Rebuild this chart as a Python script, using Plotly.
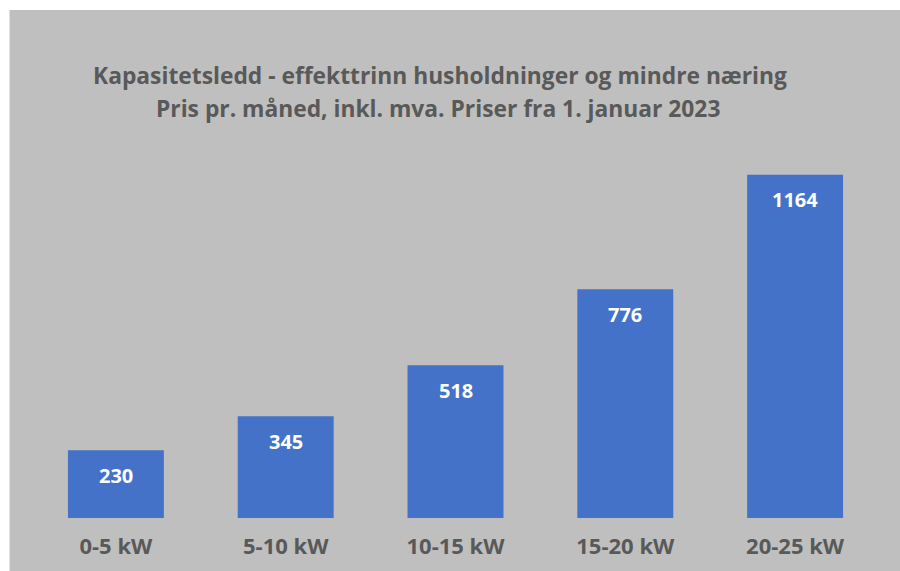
import plotly.graph_objects as go

categories = ["0-5 kW", "5-10 kW", "10-15 kW", "15-20 kW", "20-25 kW"]
values = [230, 345, 518, 776, 1164]
title_lines = ["Kapasitetsledd - effekttrinn husholdninger og mindre næring",
               "Pris pr. måned, inkl. mva. Priser fra 1. januar 2023"]

W, H = 900, 571
BG = "#bfbfbf"
TXT = "#595959"

fig = go.Figure(go.Bar(
    x=categories, y=values,
    marker=dict(color="#4472c8", line=dict(width=0)),
    width=0.565, hoverinfo="x+y",
))

# plot area: x 30.5..880.5 ; y bottom 518, top 150
l, r = 30.5, W - 880.5
b, t = H - 518, 150
annotations = [
    dict(text=title_lines[0], xref="paper", yref="paper", showarrow=False,
         x=(440 - l) / (W - l - r), y=(518 - 75) / (518 - t), xanchor="center", yanchor="middle",
         font=dict(family="Open Sans", size=22.8, color=TXT, weight="bold")),
    dict(text=title_lines[1], xref="paper", yref="paper", showarrow=False,
         x=(438 - l) / (W - l - r), y=(518 - 108) / (518 - t), xanchor="center", yanchor="middle",
         font=dict(family="Open Sans", size=22.8, color=TXT, weight="bold")),
]
for c, v in zip(categories, values):
    annotations.append(dict(x=c, y=v, xref="x", yref="y", text=str(v), showarrow=False,
                            yanchor="middle", yshift=-25,
                            font=dict(family="Open Sans", size=20, color="white", weight="bold")))

fig.update_layout(
    width=W, height=H,
    paper_bgcolor="white", plot_bgcolor=BG,
    margin=dict(l=l, r=r, t=t, b=b, pad=0),
    showlegend=False,
    xaxis=dict(showgrid=False, zeroline=False, showline=False, ticks="", automargin=False,
               tickfont=dict(family="Open Sans", size=22, color=TXT, weight="bold"),
               ticklabelstandoff=13),
    yaxis=dict(range=[0, 368 / 0.2948], visible=False, showgrid=False, zeroline=False,
               automargin=False),
    shapes=[dict(type="rect", xref="paper", yref="paper", layer="below",
                 x0=(9 - l) / (W - l - r), x1=(W - l) / (W - l - r) + 0.01,
                 y0=-(H - 518) / (518 - t) - 0.01, y1=(518 - 10) / (518 - t),
                 fillcolor=BG, line=dict(width=0))],
    annotations=annotations,
)
fig.write_html("out.html", config={"displayModeBar": False},
               post_script="document.body.style.margin='0';document.body.style.padding='0';")
